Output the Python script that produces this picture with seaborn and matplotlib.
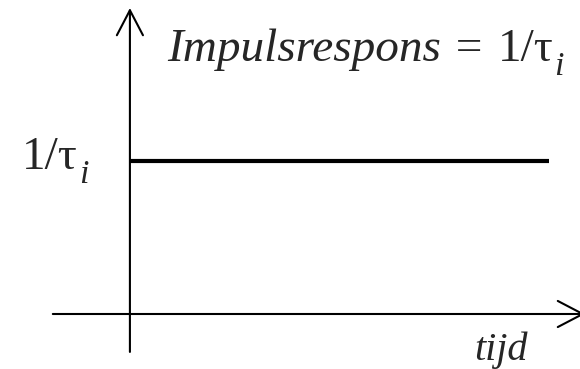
import matplotlib
matplotlib.use("Agg")
import matplotlib.pyplot as plt
from matplotlib.transforms import IdentityTransform
import seaborn as sns

# Impulse response of a pure integrator: constant level 1/tau_i for t >= 0
tau_i = 1.0
time = [0.0, 10.0]
response = [1.0 / tau_i, 1.0 / tau_i]

# labels as (text, style, relative size, subscript) runs
title_runs = [("Impulsrespons = ", "italic", 1.0, False),
              ("1/τ", "normal", 1.0, False),
              ("i", "italic", 0.72, True)]
level_runs = [("1/τ", "normal", 1.0, False),
              ("i", "italic", 0.72, True)]
time_label = "tijd"

sns.set_style("white")
plt.rcParams["font.family"] = ["Liberation Serif", "DejaVu Serif"]

W, H = 580, 369
fig = plt.figure(figsize=(W / 100, H / 100), dpi=100)
ax = fig.add_axes([0, 0, 1, 1])
ax.set_axis_off()

# axis scaling: 41.9 px per time unit, 153 px per response unit
ax.set_xlim(-3.10, 10.74)
ax.set_ylim(-0.3595, 2.0523)

sns.lineplot(x=time, y=response, ax=ax, color="black", linewidth=3.0,
             solid_capstyle="butt")

arrow = dict(arrowstyle="->,head_length=0.9,head_width=0.47", lw=1.5,
             color="black", shrinkA=0, shrinkB=0, mutation_scale=20)
# vertical (response) axis
ax.annotate("", xy=(0, 2.0), xytext=(0, -0.248), arrowprops=arrow,
            annotation_clip=False)
# horizontal (time) axis
ax.annotate("", xy=(10.86, 0), xytext=(-1.84, 0), arrowprops=arrow,
            annotation_clip=False)

renderer = fig.canvas.get_renderer()


def draw_runs(x, y, runs, size, drop_px=14):
    """Write text runs one after another on a shared baseline (data coords)."""
    px, py = ax.transData.transform((x, y))
    for text, style, rel, sub in runs:
        t = fig.text(px, py - (drop_px if sub else 0), text,
                     fontsize=size * rel, style=style,
                     va="baseline", ha="left", transform=IdentityTransform())
        px = t.get_window_extent(renderer).x1 + (1 if not sub else 0)


draw_runs(0.883, 1.654, title_runs, 34)
draw_runs(-2.578, 0.948, level_runs, 34)
ax.text(8.21, -0.30, time_label, fontsize=29, style="italic",
        va="baseline", ha="left")

fig.savefig("out.png", dpi=100)
